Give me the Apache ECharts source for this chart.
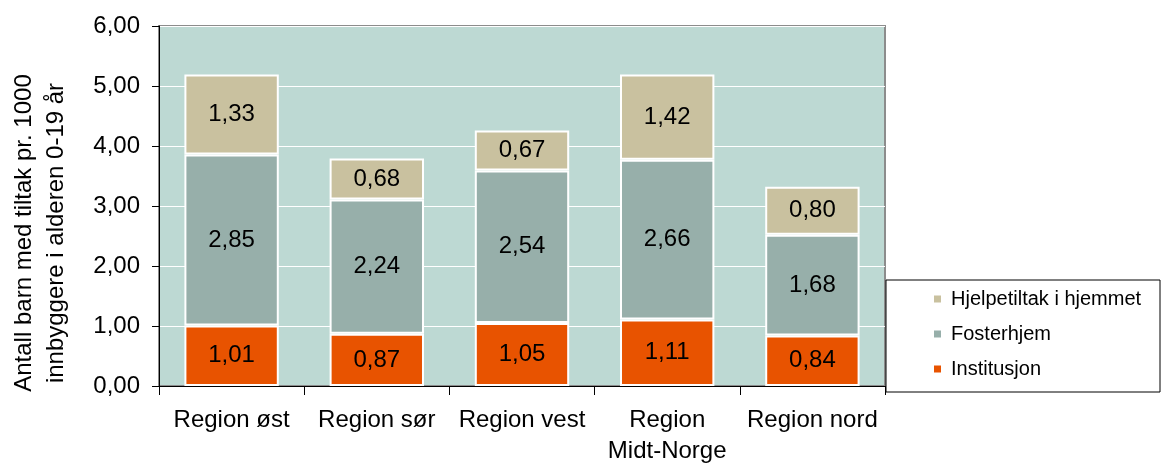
<!DOCTYPE html>
<html>
<head>
	<meta charset="utf-8">
	<title>Tiltak per region</title>
	<style>
		html, body { margin: 0; padding: 0; background: #fff; }
		#chart { width: 1167px; height: 467px; }
	</style>
</head>
<body>
	<div id="chart"></div>
	<script type="text/javascript" src="https://cdn.jsdelivr.net/npm/echarts@6/dist/echarts.min.js"></script>
	<script type="text/javascript">
	var regions = ['Region øst', 'Region sør', 'Region vest', 'Region Midt-Norge', 'Region nord'];
	var institusjon = [1.01, 0.87, 1.05, 1.11, 0.84];
	var fosterhjem = [2.85, 2.24, 2.54, 2.66, 1.68];
	var hjelpetiltak = [1.33, 0.68, 0.67, 1.42, 0.80];
	var yTicks = [0, 1, 2, 3, 4, 5, 6];

	var font = 'Arial, "Liberation Sans", sans-serif';
	var myChart = echarts.init(document.getElementById('chart'));

	function komma(v) {
		return Number(v).toFixed(2).replace('.', ',');
	}

	function lagSerie(navn, data, farge) {
		return {
			name: navn,
			type: 'bar',
			stack: 'tot',
			barWidth: '65%',
			data: data,
			itemStyle: {
				color: farge,
				borderColor: '#ffffff',
				borderWidth: 2
			},
			label: {
				show: true,
				position: 'inside',
				color: '#000',
				fontFamily: font,
				fontSize: 24,
				formatter: function(p) { return komma(p.value); }
			}
		};
	}

	var option = {
		animation: false,
		backgroundColor: '#ffffff',
		grid: {
			left: 159,
			right: 282,
			top: 26,
			bottom: 81,
			show: true,
			backgroundColor: '#bdd9d3',
			borderColor: '#8c8c8c',
			borderWidth: 2
		},
		legend: {
			orient: 'vertical',
			left: 927,
			top: 284,
			itemWidth: 9,
			itemHeight: 9,
			itemGap: 15,
			icon: 'rect',
			data: ['Hjelpetiltak i hjemmet', 'Fosterhjem', 'Institusjon'],
			textStyle: {
				fontFamily: font,
				fontSize: 20,
				color: '#000',
				padding: [0, 0, 0, 4]
			}
		},
		graphic: [{
			type: 'rect',
			shape: { x: 886, y: 280, width: 274, height: 112 },
			style: { fill: 'none', stroke: '#000', lineWidth: 1 },
			z: 1
		}, {
			// y-aksetittel
			type: 'text',
			x: 40,
			y: 233,
			rotation: Math.PI / 2,
			style: {
				text: 'Antall barn med tiltak pr. 1000\ninnbyggere i alderen 0-19 år',
				font: '24px ' + font,
				fill: '#000',
				textAlign: 'center',
				textVerticalAlign: 'middle',
				lineHeight: 32
			}
		}],
		xAxis: {
			type: 'category',
			data: regions,
			axisLine: { lineStyle: { color: '#000', width: 1 } },
			axisTick: { show: true, length: 9, lineStyle: { color: '#000' } },
			axisLabel: {
				color: '#000',
				fontFamily: font,
				fontSize: 24,
				lineHeight: 31,
				margin: 19,
				interval: 0,
				formatter: function(v) {
					return v === 'Region Midt-Norge' ? 'Region\nMidt-Norge' : v;
				}
			}
		},
		yAxis: {
			type: 'value',
			min: yTicks[0],
			max: yTicks[yTicks.length - 1],
			interval: 1,
			axisLine: { show: true, lineStyle: { color: '#000', width: 1 } },
			axisTick: { show: true, length: 7, lineStyle: { color: '#000' } },
			splitLine: { lineStyle: { color: '#ffffff', width: 1 } },
			axisLabel: {
				color: '#000',
				fontFamily: font,
				fontSize: 24,
				margin: 19,
				formatter: function(v) { return komma(v); }
			}
		},
		series: [
			lagSerie('Institusjon', institusjon, '#e85300'),
			lagSerie('Fosterhjem', fosterhjem, '#97afaa'),
			lagSerie('Hjelpetiltak i hjemmet', hjelpetiltak, '#c9c19f')
		]
	};
	myChart.setOption(option);
	</script>
</body>
</html>
